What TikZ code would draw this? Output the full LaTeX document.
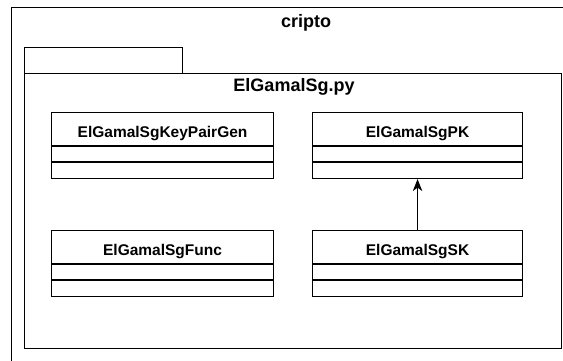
\documentclass[tikz,border=0pt]{standalone}
\usepackage{fontspec}
\setmainfont{Liberation Sans}
\usetikzlibrary{arrows.meta,calc}

% one UML class: outer box plus name and two empty compartments
\newcommand{\umlclassbox}[5]{%
  \node[classbox, minimum width=#4] (#1) at (#2,#3) {};
  \node[classname] (#1-name) at ($(#1.north)+(0,25)$) {#5};
  \draw (#1.north west) ++(0,34) -- ++(#4,0);
  \draw (#1.north west) ++(0,50) -- ++(#4,0);
}

\begin{document}
\begin{tikzpicture}[x=1pt, y=-1pt, line width=1.1pt,
  classbox/.style={draw, minimum height=66pt, anchor=north west, inner sep=0pt},
  classname/.style={font=\fontsize{15.5}{17}\selectfont\bfseries, inner sep=0pt, anchor=base},
  pkgtitle/.style={font=\fontsize{18}{20}\selectfont\bfseries, inner sep=0pt, anchor=base},
  pkgframe/.style={draw, anchor=north west, inner sep=0pt},
  inherit/.style={-{Stealth[length=12pt, width=9.5pt, inset=3.5pt]}}]
\useasboundingbox (0,0) rectangle (563,361);
\clip (0,0) rectangle (563,361);

% outer package "cripto"
\node[pkgframe, minimum width=590pt, minimum height=353.5pt] (cripto) at (11,7) {};
\node[pkgtitle] (cripto-title) at (306,28) {cripto};

% inner package "ElGamalSg.py" with its tab
\node[pkgframe, minimum width=158pt, minimum height=26pt] (modtab) at (24,47) {};
\node[pkgframe, minimum width=537pt, minimum height=275pt] (module) at (24,73) {};
\node[pkgtitle] (module-title) at (294,92) {ElGamalSg.py};

% classes
\umlclassbox{keypair}{51}{112}{222pt}{ElGamalSgKeyPairGen}
\umlclassbox{pk}{312}{112}{210pt}{ElGamalSgPK}
\umlclassbox{func}{51}{230}{222pt}{ElGamalSgFunc}
\umlclassbox{sk}{312}{230}{210pt}{ElGamalSgSK}

% generalisation
\draw[inherit] (sk.north) -- (pk.south);
\end{tikzpicture}
\end{document}
